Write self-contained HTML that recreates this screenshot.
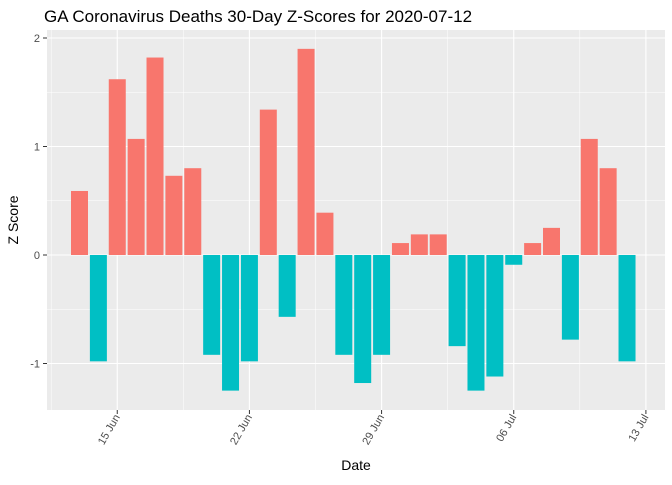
<!DOCTYPE html>
<html><head><meta charset="utf-8"><style>
body{margin:0;background:#fff;font-family:"Liberation Sans",sans-serif}
</style></head><body>
<svg id="c" width="672" height="480" xmlns="http://www.w3.org/2000/svg">
<text x="44" y="22" font-size="17" fill="#000">GA Coronavirus Deaths 30-Day Z-Scores for 2020-07-12</text>
<rect x="47" y="30" width="618" height="380" fill="#ebebeb"/>
<g id="grid"></g><g id="bars"></g><g id="axes"></g>
<text x="356" y="470" font-size="14" text-anchor="middle">Date</text>
<text transform="translate(18,220) rotate(-90)" font-size="14" text-anchor="middle">Z Score</text>
</svg>
<script>
const values=[0.59,-0.98,1.62,1.07,1.82,0.73,0.80,-0.92,-1.25,-0.98,1.34,-0.57,1.90,0.39,-0.92,-1.18,-0.92,0.11,0.19,0.19,-0.84,-1.25,-1.12,-0.09,0.11,0.25,-0.78,1.07,0.80,-0.98];
const yTicks=[-1,0,1,2];
const xTickDays=[2,9,16,23,30];
const xTickLabels=["15 Jun","22 Jun","29 Jun","06 Jul","13 Jul"];
const NS="http://www.w3.org/2000/svg";
const x=d=>79.5+d*18.88;
const y=v=>255-v*108.5;
function mk(t,a,p){const e=document.createElementNS(NS,t);for(const k in a)e.setAttribute(k,a[k]);document.getElementById(p).appendChild(e);return e;}
for(let v=-1.5;v<=2.01;v+=0.5){const l=mk('line',{x1:47,x2:665,y1:y(v),y2:y(v),stroke:'#fff','stroke-width':Number.isInteger(v)?1.1:0.5},'grid');

}
for(let d=-1.5;d<=33;d+=3.5){const l=mk('line',{x1:x(d),x2:x(d),y1:30,y2:410,stroke:'#fff','stroke-width':Math.abs((d-2)%7)<0.01?1.1:0.5},'grid');

}
values.forEach((v,i)=>{const r=mk('rect',{x:x(i)-8.5,width:17,y:Math.min(y(v),y(0)),height:Math.abs(y(v)-y(0)),fill:v>=0?'#f8766d':'#00bfc4'},'bars');

});
yTicks.forEach(t=>{mk('line',{x1:43,x2:47,y1:y(t),y2:y(t),stroke:'#333'},'axes');
const e=mk('text',{x:40,y:y(t)+4,'font-size':11,fill:'#4d4d4d','text-anchor':'end'},'axes');e.textContent=t;

});
xTickDays.forEach((d,i)=>{mk('line',{x1:x(d),x2:x(d),y1:410,y2:414,stroke:'#333'},'axes');
const e=mk('text',{transform:`translate(${x(d)+3},417) rotate(-60)`,'font-size':11,fill:'#4d4d4d','text-anchor':'end'},'axes');e.textContent=xTickLabels[i];

});
</script>
</body></html>
